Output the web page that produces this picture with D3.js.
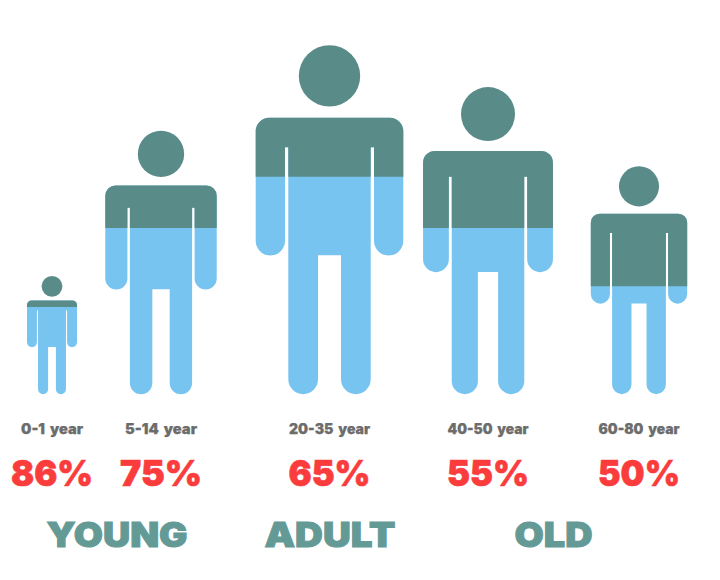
<!DOCTYPE html>
<html>
<head>
<meta charset="utf-8">
<style>html,body{margin:0;padding:0;background:#fff}svg{display:block}</style>
<script src="https://cdn.jsdelivr.net/npm/d3@7"></script>
</head>
<body>
<svg id="c" width="720" height="580"></svg>
<script>
// ---- data ----
const ageGroups   = ["0-1 year", "5-14 year", "20-35 year", "40-50 year", "60-80 year"];
const percentages = [86, 75, 65, 55, 50];
const figureSize  = [0.339, 0.755, 1, 0.88, 0.653];      // relative stature
const waterLevel  = [0.738, 0.631, 0.623, 0.541, 0.474]; // filled share of stature
const stages      = ["YOUNG", "ADULT", "OLD"];

// ---- layout ----
const W = 720, H = 580, FEET = 394.2, FULL = 349;
const centers = [52, 161, 329.5, 488, 639];
const stageCenters = [117, 330, 553.5];
const ageWidths = [62, 72, 81, 81, 81];
const stageWidths = [141, 131, 78];
const COL = {dark:"#598c89", blue:"#78c4f0", grey:"#6c6c6c", red:"#fb3c3d", teal:"#649a96"};

const xScale = d3.scaleOrdinal().domain(ageGroups).range(centers);
const stageX = d3.scaleOrdinal().domain(stages).range(stageCenters);
const pxPerStature = d3.scaleLinear().domain([0, 1]).range([0, FULL]);

const svg = d3.select("#c");
const defs = svg.append("defs");

// body silhouette, measured on the full size figure and scaled by s
function silhouette(cx, s) {
  const u = v => v * s;
  const hw = u(73.8), top = u(276.5), cr = u(13.5), gapOut = u(44.5), gapIn = u(41.2),
        gapTop = u(247), armBot = u(138.7), crotch = u(139), crotchHalf = u(11.5);
  const armR = (hw - gapOut) / 2, legR = (gapIn - crotchHalf) / 2;
  const X = v => cx + v, Y = v => FEET - v;
  const p = d3.path();
  p.moveTo(X(-hw + cr), Y(top));
  p.lineTo(X(hw - cr), Y(top));
  p.arcTo(X(hw), Y(top), X(hw), Y(top - cr), cr);
  p.lineTo(X(hw), Y(armBot + armR));
  p.arc(X(hw - armR), Y(armBot + armR), armR, 0, Math.PI, false);
  p.lineTo(X(gapOut), Y(gapTop));
  p.lineTo(X(gapIn), Y(gapTop));
  p.lineTo(X(gapIn), Y(legR));
  p.arc(X(gapIn - legR), Y(legR), legR, 0, Math.PI, false);
  p.lineTo(X(crotchHalf), Y(crotch));
  p.lineTo(X(-crotchHalf), Y(crotch));
  p.lineTo(X(-crotchHalf), Y(legR));
  p.arc(X(-gapIn + legR), Y(legR), legR, 0, Math.PI, false);
  p.lineTo(X(-gapIn), Y(gapTop));
  p.lineTo(X(-gapOut), Y(gapTop));
  p.lineTo(X(-gapOut), Y(armBot + armR));
  p.arc(X(-hw + armR), Y(armBot + armR), armR, 0, Math.PI, false);
  p.lineTo(X(-hw), Y(top - cr));
  p.arcTo(X(-hw), Y(top), X(-hw + cr), Y(top), cr);
  p.closePath();
  return p.toString();
}

ageGroups.forEach((name, i) => {
  const cx = xScale(name), s = figureSize[i];
  const g = svg.append("g");
  const stature = pxPerStature(s);
  const boundary = FEET - stature * waterLevel[i];
  defs.append("clipPath").attr("id", "dry" + i).append("rect")
    .attr("x", 0).attr("y", 0).attr("width", W).attr("height", boundary);
  const r = 30.7 * s;
  g.append("circle").attr("cx", cx).attr("cy", FEET - stature + r).attr("r", r).attr("fill", COL.dark);
  const d = silhouette(cx, s);
  g.append("path").attr("d", d).attr("fill", COL.blue);
  g.append("path").attr("d", d).attr("fill", COL.dark).attr("clip-path", `url(#dry${i})`);
});

const FONT = "Inter, 'Liberation Sans', sans-serif";
svg.append("g").selectAll("text").data(ageGroups).join("text")
  .attr("x", d => xScale(d)).attr("y", 434)
  .attr("text-anchor", "middle").attr("font-family", FONT).attr("font-weight", 900)
  .attr("font-size", 14).attr("fill", COL.grey).attr("word-spacing", 2)
  .attr("stroke", COL.grey).attr("stroke-width", 0.25)
  .attr("textLength", (d, i) => ageWidths[i]).attr("lengthAdjust", "spacingAndGlyphs")
  .text(d => d);

svg.append("g").selectAll("text").data(percentages).join("text")
  .attr("x", (d, i) => xScale(ageGroups[i])).attr("y", 486)
  .attr("text-anchor", "middle").attr("font-family", FONT).attr("font-weight", 900)
  .attr("font-size", 36).attr("fill", COL.red)
  .attr("stroke", COL.red).attr("stroke-width", 0.6)
  .attr("textLength", 82).attr("lengthAdjust", "spacingAndGlyphs")
  .text(d => d + "%");

svg.append("g").selectAll("text").data(stages).join("text")
  .attr("x", d => stageX(d)).attr("y", 547)
  .attr("text-anchor", "middle").attr("font-family", FONT).attr("font-weight", 900)
  .attr("font-size", 34).attr("fill", COL.teal)
  .attr("stroke", COL.teal).attr("stroke-width", 1).attr("stroke-linejoin", "miter")
  .attr("textLength", (d, i) => stageWidths[i]).attr("lengthAdjust", "spacingAndGlyphs")
  .text(d => d);
</script>
</body>
</html>
